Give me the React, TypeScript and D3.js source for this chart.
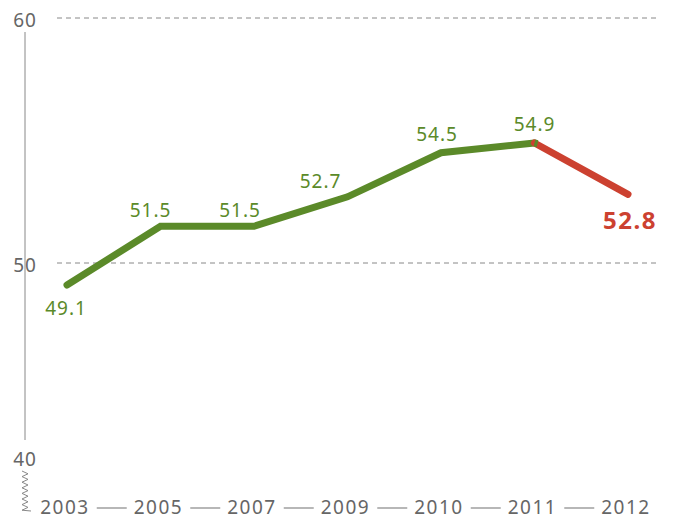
import React from 'react';
import * as d3 from 'd3';

const years = ['2003', '2005', '2007', '2009', '2010', '2011', '2012'];
const values = [49.1, 51.5, 51.5, 52.7, 54.5, 54.9, 52.8];
const yTicks = [60, 50, 40];
const gridTicks = [60, 50];

const W = 674;
const H = 519;
const green = '#5b8a29';
const red = '#cc4130';
const grey = '#666';
const font = '"Noto Sans", "Open Sans", sans-serif';

export default function App() {
  const x = d3.scalePoint().domain(years).range([67, 628]);
  const y = d3.scaleLinear().domain([40, 60]).range([508, 18]);

  const pts: [number, number][] = years.map((yr, i) => [x(yr) as number, y(values[i])]);
  const line = d3.line();
  const n = pts.length;

  // label offsets (dx, dy) relative to each point
  const lab = [
    [-1, 30], [-10, -9], [-14, -9], [-27, -9], [-4, -12], [0, -12], [2, 35],
  ];

  // zigzag for broken axis
  const zig: [number, number][] = [];
  for (let k = 0; k <= 14; k++) zig.push([k % 2 === 0 ? 22 : 28, 471 + k * 2.8]);
  zig.push([31, 511]);

  return (
    <svg width={W} height={H} style={{ position: 'absolute', left: 0, top: 0 }}>
      {gridTicks.map(t => (
        <line key={t} x1={57} x2={660} y1={y(t)} y2={y(t)} stroke="#888" strokeWidth={1} strokeDasharray="5,4" />
      ))}
      <line x1={25} x2={25} y1={32} y2={440} stroke="#888" strokeWidth={1} />
      <path d={d3.line()(zig) || ''} fill="none" stroke="#888" strokeWidth={1} />
      {yTicks.map(t => (
        <text key={t} x={25} y={t === 40 ? 466 : y(t) + 9} textAnchor="middle" fontFamily={font}
          fontSize={19} fill={grey} letterSpacing={1}>{t}</text>
      ))}
      {years.map((yr, i) => (
        <text key={yr} x={(x(yr) as number) - 2} y={514} textAnchor="middle" fontFamily={font}
          fontSize={19} fill={grey} letterSpacing={1.5}>{yr}</text>
      ))}
      {years.slice(0, -1).map((yr, i) => {
        const a = (x(yr) as number) - 2;
        const b = (x(years[i + 1]) as number) - 2;
        const m = (a + b) / 2;
        return <line key={yr} x1={m - 15} x2={m + 15} y1={508} y2={508} stroke="#888" strokeWidth={1.2} />;
      })}
      <path d={line(pts.slice(0, n - 1)) || ''} fill="none" stroke={green} strokeWidth={7}
        strokeLinecap="round" strokeLinejoin="miter" />
      <path d={line(pts.slice(n - 2)) || ''} fill="none" stroke={red} strokeWidth={7}
        strokeLinecap="round" />
      <path d={line(pts.slice(n - 2, n - 1).concat([[pts[n - 2][0] + 3, pts[n - 2][1] + 0.8]])) || ''}
        fill="none" stroke={green} strokeWidth={7} />
      {values.map((v, i) => {
        const last = i === n - 1;
        return (
          <text key={i} x={pts[i][0] + lab[i][0]} y={pts[i][1] + lab[i][1]} textAnchor="middle"
            fontFamily={font} fontSize={last ? 24 : 19} fontWeight={last ? 700 : 400}
            fill={last ? red : green} letterSpacing={last ? 1.5 : 1}>{v.toFixed(1)}</text>
        );
      })}
    </svg>
  );
}
